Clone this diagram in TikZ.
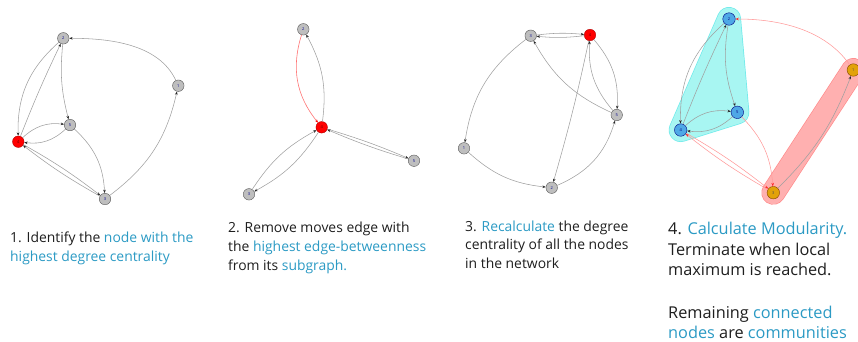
\documentclass[tikz,border=0pt]{standalone}
\usepackage{fontspec}
\setmainfont{Open Sans}
\usetikzlibrary{arrows.meta}
\definecolor{tealtxt}{HTML}{2B9AC4}
\definecolor{blktxt}{HTML}{1E1E1E}
\definecolor{edgegray}{HTML}{A0A0A0}
\definecolor{edgepink}{HTML}{FF9A9A}
\definecolor{nodegray}{HTML}{BEBEBE}
\definecolor{nodeblue}{HTML}{4EA8E6}
\definecolor{nodeorange}{HTML}{E2A20A}
\definecolor{hullcyan}{HTML}{A8F6F2}
\definecolor{hullcyanb}{HTML}{6EEAEA}
\definecolor{hullred}{HTML}{FFB0B0}
\definecolor{hullredb}{HTML}{FF8C8C}
\begin{document}
\begin{tikzpicture}[x=1pt,y=1pt,
  gn/.style={circle,draw=gray!70!black,fill=nodegray,minimum size=11.5pt,inner sep=0pt,line width=0.4pt,
    font=\fontsize{4}{4}\selectfont,text=blue!55!black},
  rn/.style={gn,fill=red,draw=red!70!black,text=red!40!black},
  bn/.style={gn,fill=nodeblue,draw=blue!50!black,minimum size=12.5pt,text=blue!50!black},
  on/.style={gn,fill=nodeorange,draw=orange!50!black,minimum size=12.5pt,text=black!70},
  ed/.style={draw=edgegray,line width=0.55pt,-{Stealth[length=3.4pt,width=2.6pt,color=black!85]}},
  pe/.style={draw=edgepink,line width=0.55pt,-{Stealth[length=3.4pt,width=2.6pt,color=red!85]}},
  re/.style={draw=red!55,line width=0.6pt,-{Stealth[length=3.4pt,width=2.6pt,color=red]}},
  tl/.style={anchor=base west,inner sep=0pt,font=\fontsize{13.9}{16}\selectfont,text=blktxt},
  tb/.style={anchor=base west,inner sep=0pt,font=\fontsize{16.3}{19}\selectfont,text=blktxt}
]
\useasboundingbox (0,0) rectangle (858,-341);

% ---------- Panel 1 ----------
\node[gn] (a2) at (63.3,-38.3) {2};
\node[gn] (a1) at (178.3,-85.7) {1};
\node[gn] (a5) at (70,-125) {5};
\node[rn] (a4) at (18.3,-141.7) {4};
\node[gn] (a3) at (105,-199) {3};
\draw[ed] (a1) to[out=115,in=0,looseness=0.9] (a2);
\draw[ed] (a3) to[bend right=20] (a1);
\draw[ed] (a2) to[bend right=25] (a4);
\draw[ed] (a4) to[bend left=2] (a2);
\draw[ed] (a2) to[bend right=10] (a5);
\draw[ed] (a4) to[bend left=25] (a5);
\draw[ed] (a5) to[bend left=25] (a4);
\draw[ed] (a5) to[bend left=22] (a3);
\draw[ed] (a4) to[bend left=4] (a3);
\draw[ed] (a3) to[bend left=4] (a4);

% ---------- Panel 2 ----------
\node[gn] (b2) at (303.3,-29.3) {2};
\node[rn] (b4) at (321.7,-127.3) {4};
\node[gn] (b5) at (414,-160.7) {5};
\node[gn] (b3) at (249,-194.3) {3};
\draw[re] (b2) to[bend right=28] (b4);
\draw[ed] (b4) to[bend right=18] (b2);
\draw[ed] (b4) to[bend left=3] (b5);
\draw[ed] (b5) to[bend left=3] (b4);
\draw[ed] (b4) to[bend left=14] (b3);
\draw[ed] (b3) to[bend left=14] (b4);

% ---------- Panel 3 ----------
\node[gn] (c3) at (530.7,-35.7) {3};
\node[rn] (c4) at (590,-35) {4};
\node[gn] (c5) at (616.7,-115) {5};
\node[gn] (c1) at (464,-148.3) {1};
\node[gn] (c2) at (551.7,-187.7) {2};
\draw[ed] (c3) to[bend left=6] (c4);
\draw[ed] (c4) to[bend left=6] (c3);
\draw[ed] (c3) to[bend right=22] (c1);
\draw[ed] (c1) to[bend right=18] (c2);
\draw[ed] (c2) to[bend right=25] (c5);
\draw[ed] (c4) to[bend left=2] (c2);
\draw[ed] (c5) to[bend left=18] (c3);
\draw[ed] (c4) to[bend left=22] (c5);
\draw[ed] (c5) to[bend left=22] (c4);

% ---------- Panel 4 ----------
\coordinate (h2) at (729,-19);
\coordinate (h5) at (737.3,-112.3);
\coordinate (h4) at (680.7,-130);
\coordinate (h1) at (853.3,-70);
\coordinate (h3) at (773.3,-192.7);
\path[draw=hullcyanb,line width=24pt,line join=round] (h2) -- (h5) -- (h4) -- cycle;
\path[fill=hullcyan,draw=hullcyan,line width=22.6pt,line join=round] (h2) -- (h5) -- (h4) -- cycle;
\path[draw=hullredb,line width=24pt,line cap=round] (h3) -- (h1);
\path[draw=hullred,line width=22.6pt,line cap=round] (h3) -- (h1);
\node[bn] (d2) at (h2) {2};
\node[on] (d1) at (h1) {1};
\node[bn] (d5) at (h5) {5};
\node[bn] (d4) at (h4) {4};
\node[on] (d3) at (h3) {3};
\draw[pe] (d1) to[out=125,in=0,looseness=0.9] (d2);
\draw[ed] (d3) to[bend right=12] (d1);
\draw[ed] (d2) to[bend right=25] (d4);
\draw[ed] (d4) to[bend left=2] (d2);
\draw[ed] (d2) to[bend right=14] (d5);
\draw[ed] (d4) to[bend left=25] (d5);
\draw[ed] (d5) to[bend left=25] (d4);
\draw[pe] (d5) to[bend left=20] (d3);
\draw[pe] (d4) to[bend left=4] (d3);
\draw[pe] (d3) to[bend left=4] (d4);

% ---------- Texts ----------
\node[tl] (t1a) at (10,-242) {1. Identify the \textcolor{tealtxt}{node with the}};
\node[tl] (t1b) at (10,-261) {\textcolor{tealtxt}{highest degree centrality}};

\node[tl] (t2a) at (228,-232) {2. Remove moves edge with};
\node[tl] (t2b) at (228,-251) {the \textcolor{tealtxt}{highest edge-betweenness}};
\node[tl] (t2c) at (228,-270) {from its \textcolor{tealtxt}{subgraph.}};

\node[tl] (t3a) at (465,-231) {3. \textcolor{tealtxt}{Recalculate} the degree};
\node[tl] (t3b) at (465,-249.5) {centrality of all the nodes};
\node[tl] (t3c) at (465,-268) {in the network};

\node[tb] (t4a) at (668,-234) {4. \textcolor{tealtxt}{Calculate Modularity.}};
\node[tb] (t4b) at (668,-255) {Terminate when local};
\node[tb] (t4c) at (668,-275.5) {maximum is reached.};
\node[tb] (t4d) at (668,-318) {Remaining \textcolor{tealtxt}{connected}};
\node[tb] (t4e) at (668,-338) {\textcolor{tealtxt}{nodes} are \textcolor{tealtxt}{communities}};
\end{tikzpicture}
\end{document}
